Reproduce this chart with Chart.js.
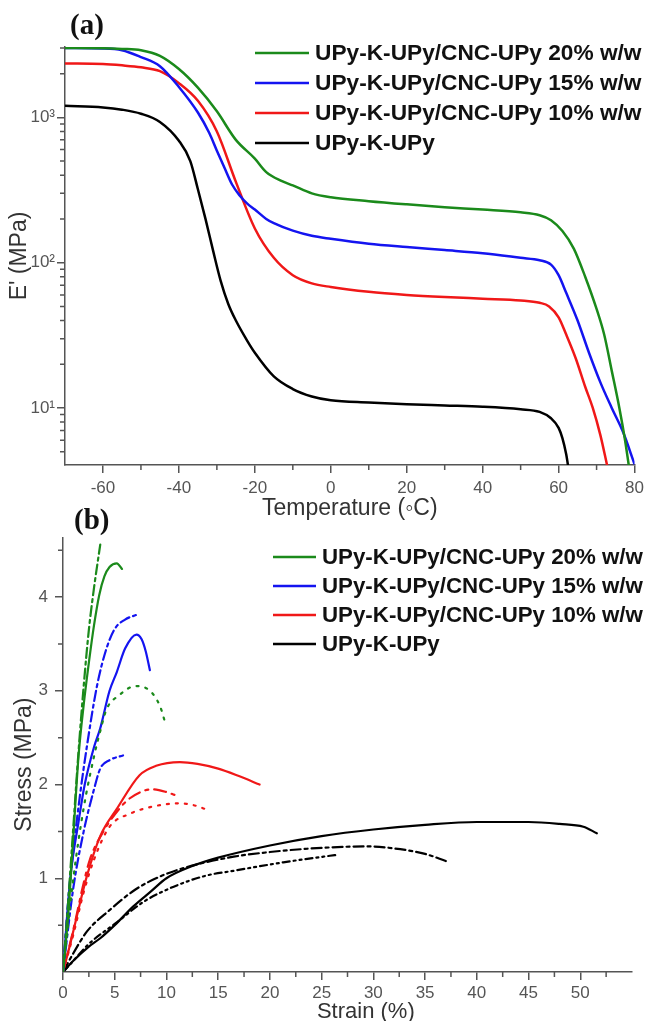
<!doctype html>
<html lang="en">
  <head>
    <meta charset="UTF-8" />
    <title>DMA and tensile curves</title>
    <script src="https://cdn.jsdelivr.net/npm/chart.js"></script>
    <style>
      body {
        margin: 0;
        background: #fff;
        width: 649px;
        height: 1021px;
        position: relative;
        overflow: hidden;
      }
      canvas {
        position: absolute;
        left: 0;
      }
      #dma {
        top: 0;
      }
      #tensile {
        top: 500px;
      }
    </style>
  </head>
  <body>
    <canvas id="dma" width="649" height="520"></canvas>
    <canvas id="tensile" width="649" height="521"></canvas>

    <script>
      const seriesNames = [
        "UPy-K-UPy/CNC-UPy 20% w/w",
        "UPy-K-UPy/CNC-UPy 15% w/w",
        "UPy-K-UPy/CNC-UPy 10% w/w",
        "UPy-K-UPy",
      ];
      const seriesColors = ["#1b8a1b", "#1414f0", "#f01818", "#000000"];

      // (a) storage modulus E' (MPa) vs temperature (C)
      const tempGreen = [-70, -60, -55, -50, -45, -40, -35, -30, -25, -20, -17, -13, -10, -5, 0, 10, 20, 30, 40, 50, 55, 58, 61, 64, 67, 70, 72, 74, 76, 77.5, 78.5];
      const modGreen = [3000, 2990, 2960, 2900, 2650, 2150, 1600, 1100, 700, 520, 420, 365, 340, 300, 282, 265, 252, 241, 232, 222, 212, 196, 165, 125, 80, 48, 32, 18, 10, 6, 4];
      const tempBlue = [-70, -60, -55, -50, -45, -40, -35, -32, -30, -28, -26, -24, -22, -20, -17, -15, -10, -5, 0, 10, 20, 30, 40, 50, 55, 58, 60, 62, 65, 68, 71, 74, 77, 80];
      const modBlue = [3000, 2980, 2900, 2600, 2250, 1620, 1080, 780, 590, 450, 345, 290, 255, 232, 200, 187, 166, 153, 146, 135, 128, 122, 116, 108, 104, 97, 82, 62, 40, 24, 15, 10, 6.8, 4.1];
      const tempRed = [-70, -60, -55, -50, -45, -40, -35, -30, -25, -20, -15, -10, -5, 0, 10, 20, 30, 40, 50, 55, 57.5, 60, 62, 64.5, 67, 69, 71, 72.8];
      const modRed = [2350, 2330, 2280, 2210, 2080, 1720, 1300, 800, 360, 172, 108, 82, 72, 68, 63, 60, 58, 56.5, 55, 53, 50, 42, 32, 22, 14, 10, 6.5, 4];
      const tempBlack = [-70, -60, -55, -50, -45, -40, -37, -35, -33, -31, -29, -27, -25, -22, -20, -15, -10, -5, 0, 10, 20, 30, 40, 50, 55, 58, 60, 61, 62, 62.5];
      const modBlack = [1200, 1170, 1130, 1060, 930, 690, 500, 320, 200, 121, 75, 52, 40, 29, 24, 16.5, 13.5, 12, 11.3, 10.9, 10.6, 10.4, 10.2, 9.8, 9.4, 8.5, 7.3, 6.2, 4.8, 4];

      const tempTicks = [-60, -40, -20, 0, 20, 40, 60, 80];
      const tempMinor = [-50, -30, -10, 10, 30, 50, 70];
      const modulusTicks = [10, 100, 1000];
      const modulusTickLabels = ["10\u00b9", "10\u00b2", "10\u00b3"];
      const modulusMinor = [5, 6, 7, 8, 9, 20, 30, 40, 50, 60, 70, 80, 90, 200, 300, 400, 500, 600, 700, 800, 900, 2000, 3000];

      // (b) stress (MPa) vs strain (%), three specimens per sample
      const strainGreen1 = [0, 0.5, 1, 1.5, 2, 2.5, 3, 3.5, 4, 4.5, 5.2, 5.7];
      const stressGreen1 = [0, 0.6, 1.45, 2.3, 2.85, 3.3, 3.7, 4.02, 4.22, 4.32, 4.36, 4.3];
      const strainGreen2 = [0, 0.5, 1, 1.5, 2, 2.5, 3, 3.6];
      const stressGreen2 = [0, 0.75, 1.55, 2.35, 3.05, 3.65, 4.1, 4.56];
      const strainGreen3 = [0, 1, 2, 3, 3.6, 4.2, 5.4, 7, 8.4, 9.4, 9.9];
      const stressGreen3 = [0, 1.0, 1.75, 2.3, 2.57, 2.8, 2.95, 3.05, 3.0, 2.83, 2.65];
      const strainBlue1 = [0, 0.7, 1.5, 2.1, 3, 3.6, 4.5, 5.2, 6, 7.1, 7.6, 8, 8.4];
      const stressBlue1 = [0, 1.0, 1.6, 2.0, 2.4, 2.6, 3.0, 3.2, 3.45, 3.6, 3.55, 3.42, 3.22];
      const strainBlue2 = [0, 0.5, 1, 1.6, 2.3, 3.3, 4.2, 5, 6, 7.1];
      const stressBlue2 = [0, 0.75, 1.3, 1.85, 2.4, 3.06, 3.45, 3.66, 3.76, 3.81];
      const strainBlue3 = [0, 1, 2, 3, 3.6, 4.5, 5.8];
      const stressBlue3 = [0, 0.9, 1.5, 1.95, 2.17, 2.26, 2.31];
      const strainRed1 = [0, 0.7, 1.35, 2.3, 3.6, 5.2, 7.4, 9, 11.3, 13, 15, 17, 19];
      const stressRed1 = [0, 0.3, 0.6, 1.02, 1.45, 1.74, 2.1, 2.2, 2.24, 2.22, 2.17, 2.09, 2.0];
      const strainRed2 = [0, 1, 2, 2.6, 3.9, 5, 6.2, 7.5, 8.6, 10, 11];
      const stressRed2 = [0, 0.45, 0.95, 1.2, 1.5, 1.68, 1.83, 1.92, 1.95, 1.92, 1.88];
      const strainRed3 = [0, 1, 2, 3, 4.5, 6.5, 8.1, 10, 11.3, 12.6, 14.2];
      const stressRed3 = [0, 0.4, 0.85, 1.2, 1.55, 1.69, 1.75, 1.79, 1.8, 1.78, 1.72];
      const strainBlack1 = [0, 1, 2.5, 3.6, 5, 6.8, 8.5, 10, 12.5, 15, 20, 25, 30, 35, 40, 45, 48, 50.3, 51.6];
      const stressBlack1 = [0, 0.12, 0.27, 0.36, 0.5, 0.7, 0.86, 1.0, 1.13, 1.22, 1.35, 1.45, 1.52, 1.57, 1.6, 1.6, 1.58, 1.55, 1.48];
      const strainBlack2 = [0, 1, 2.3, 4.5, 7, 9.4, 12, 16.5, 20, 23, 26, 29.4, 32.6, 35, 37.1];
      const stressBlack2 = [0, 0.2, 0.43, 0.66, 0.88, 1.02, 1.12, 1.23, 1.28, 1.31, 1.33, 1.34, 1.31, 1.26, 1.18];
      const strainBlack3 = [0, 1, 2.5, 5.2, 7.8, 10.7, 13.9, 16.5, 21.3, 25.8, 26.5];
      const stressBlack3 = [0, 0.12, 0.3, 0.53, 0.75, 0.91, 1.03, 1.08, 1.17, 1.24, 1.25];

      const strainTicks = [0, 5, 10, 15, 20, 25, 30, 35, 40, 45, 50];
      const strainMinor = [2.5, 7.5, 12.5, 17.5, 22.5, 27.5, 32.5, 37.5, 42.5, 47.5, 52.5];
      const stressTicks = [1, 2, 3, 4];
      const stressMinor = [0.5, 1.5, 2.5, 3.5, 4.5];

      const axisColor = "#555";
      const tickText = "#555";
      Chart.defaults.font.family = '"Liberation Sans", Arial, sans-serif';

      const pts = (xs, ys) => xs.map((x, i) => ({ x: x, y: ys[i] }));

      // legend text + panel letter, drawn at fixed spots like the figure
      const sideLegend = {
        id: "sideLegend",
        afterDraw(chart, args, opts) {
          const ctx = chart.ctx;
          ctx.save();
          ctx.font = `bold ${opts.fontSize}px "Liberation Sans", Arial, sans-serif`;
          ctx.textBaseline = "middle";
          seriesNames.forEach((name, i) => {
            const y = opts.top + i * opts.rowGap;
            ctx.strokeStyle = seriesColors[i];
            ctx.lineWidth = 2.5;
            ctx.beginPath();
            ctx.moveTo(opts.lineFrom, y);
            ctx.lineTo(opts.lineTo, y);
            ctx.stroke();
            ctx.fillStyle = "#111";
            ctx.fillText(name, opts.textX, y + 1);
          });
          ctx.font = 'bold 29px "Liberation Serif", "Times New Roman", serif';
          ctx.textBaseline = "alphabetic";
          ctx.fillStyle = "#111";
          ctx.fillText(opts.panel, opts.panelX, opts.panelY);
          ctx.restore();
        },
      };

      const minorTicks = {
        id: "minorTicks",
        afterDraw(chart, args, opts) {
          const ctx = chart.ctx;
          const xs = chart.scales.x;
          const ys = chart.scales.y;
          ctx.save();
          ctx.strokeStyle = axisColor;
          ctx.lineWidth = 1.5;
          ctx.beginPath();
          opts.x.forEach((v) => {
            const p = xs.getPixelForValue(v);
            ctx.moveTo(p, xs.top);
            ctx.lineTo(p, xs.top + 5);
          });
          opts.y.forEach((v) => {
            const p = ys.getPixelForValue(v);
            ctx.moveTo(ys.right - 5, p);
            ctx.lineTo(ys.right, p);
          });
          ctx.stroke();
          ctx.restore();
        },
      };

      const axisGrid = {
        drawOnChartArea: false,
        tickLength: 8,
        color: axisColor,
        lineWidth: 1.5,
      };
      const axisBorder = { color: axisColor, width: 1.5 };

      new Chart(document.getElementById("dma"), {
        type: "line",
        data: {
          datasets: [
            { data: pts(tempGreen, modGreen), borderColor: seriesColors[0] },
            { data: pts(tempBlue, modBlue), borderColor: seriesColors[1] },
            { data: pts(tempRed, modRed), borderColor: seriesColors[2] },
            { data: pts(tempBlack, modBlack), borderColor: seriesColors[3] },
          ].map((d) => ({
            ...d,
            borderWidth: 2.5,
            pointRadius: 0,
            fill: false,
            cubicInterpolationMode: "monotone",
          })),
        },
        options: {
          responsive: false,
          animation: false,
          layout: { padding: { top: 47, right: 14, left: 0, bottom: 0 } },
          plugins: {
            legend: { display: false },
            tooltip: { enabled: false },
            sideLegend: {
              fontSize: 22.7,
              top: 53,
              rowGap: 30,
              lineFrom: 255,
              lineTo: 309,
              textX: 315,
              panel: "(a)",
              panelX: 70,
              panelY: 34,
            },
            minorTicks: { x: tempMinor, y: modulusMinor },
          },
          scales: {
            x: {
              type: "linear",
              min: -70,
              max: 80,
              afterBuildTicks: (s) => {
                s.ticks = tempTicks.map((v) => ({ value: v }));
              },
              afterFit: (s) => {
                s.height = 55;
              },
              grid: axisGrid,
              border: axisBorder,
              ticks: { font: { size: 17 }, color: tickText, padding: 5, maxRotation: 0 },
              title: {
                display: true,
                text: "Temperature (\u25e6C)",
                font: { size: 23 },
                color: "#333",
                padding: { top: 0, bottom: -2 },
              },
            },
            y: {
              type: "logarithmic",
              min: 4.05,
              max: 3050,
              afterBuildTicks: (s) => {
                s.ticks = modulusTicks.map((v) => ({ value: v }));
              },
              afterFit: (s) => {
                s.width = 65;
              },
              grid: axisGrid,
              border: axisBorder,
              ticks: {
                font: { size: 17 },
                color: tickText,
                padding: 2,
                callback: (v) => modulusTickLabels[modulusTicks.indexOf(v)],
              },
              title: {
                display: true,
                text: "E' (MPa)",
                font: { size: 23 },
                color: "#333",
                padding: { top: 6, bottom: 0 },
              },
            },
          },
        },
        plugins: [sideLegend, minorTicks],
      });

      const solid = [];
      const dashDot = [10, 4, 3, 4];
      const dotted = [2, 7];
      const dashDotDot = [7, 4, 2, 4, 2, 4];

      new Chart(document.getElementById("tensile"), {
        type: "line",
        data: {
          datasets: [
            { data: pts(strainGreen1, stressGreen1), borderColor: seriesColors[0], borderDash: solid },
            { data: pts(strainGreen2, stressGreen2), borderColor: seriesColors[0], borderDash: dashDot },
            { data: pts(strainGreen3, stressGreen3), borderColor: seriesColors[0], borderDash: dotted },
            { data: pts(strainBlue1, stressBlue1), borderColor: seriesColors[1], borderDash: solid },
            { data: pts(strainBlue2, stressBlue2), borderColor: seriesColors[1], borderDash: dashDot },
            { data: pts(strainBlue3, stressBlue3), borderColor: seriesColors[1], borderDash: dashDot },
            { data: pts(strainRed1, stressRed1), borderColor: seriesColors[2], borderDash: solid },
            { data: pts(strainRed2, stressRed2), borderColor: seriesColors[2], borderDash: [12, 6, 3, 6] },
            { data: pts(strainRed3, stressRed3), borderColor: seriesColors[2], borderDash: dotted },
            { data: pts(strainBlack1, stressBlack1), borderColor: seriesColors[3], borderDash: solid },
            { data: pts(strainBlack2, stressBlack2), borderColor: seriesColors[3], borderDash: dashDot },
            { data: pts(strainBlack3, stressBlack3), borderColor: seriesColors[3], borderDash: dashDotDot },
          ].map((d) => ({
            ...d,
            borderWidth: 2.2,
            borderCapStyle: "round",
            pointRadius: 0,
            fill: false,
            cubicInterpolationMode: "monotone",
          })),
        },
        options: {
          responsive: false,
          animation: false,
          layout: { padding: { top: 38, right: 17, left: 0, bottom: 0 } },
          plugins: {
            legend: { display: false },
            tooltip: { enabled: false },
            sideLegend: {
              fontSize: 22.3,
              top: 57,
              rowGap: 29,
              lineFrom: 273,
              lineTo: 316,
              textX: 322,
              panel: "(b)",
              panelX: 74,
              panelY: 29,
            },
            minorTicks: { x: strainMinor, y: stressMinor },
          },
          scales: {
            x: {
              type: "linear",
              min: 0,
              max: 55,
              afterBuildTicks: (s) => {
                s.ticks = strainTicks.map((v) => ({ value: v }));
              },
              afterFit: (s) => {
                s.height = 49;
              },
              grid: axisGrid,
              border: axisBorder,
              ticks: { font: { size: 17 }, color: tickText, padding: 3, maxRotation: 0 },
              title: {
                display: true,
                // leading spaces nudge the label right, as in the figure
                text: "\u00a0\u00a0\u00a0\u00a0\u00a0\u00a0Strain (%)",
                font: { size: 22 },
                color: "#333",
                padding: { top: 0, bottom: -4 },
              },
            },
            y: {
              type: "linear",
              min: 0,
              max: 4.63,
              afterBuildTicks: (s) => {
                s.ticks = stressTicks.map((v) => ({ value: v }));
              },
              afterFit: (s) => {
                s.width = 63;
              },
              grid: axisGrid,
              border: axisBorder,
              ticks: { font: { size: 17 }, color: tickText, padding: 7 },
              title: {
                display: true,
                text: "Stress (MPa)\u00a0\u00a0\u00a0",
                font: { size: 23 },
                color: "#333",
                padding: { top: 11, bottom: 0 },
              },
            },
          },
        },
        plugins: [sideLegend, minorTicks],
      });
    </script>
  </body>
</html>
